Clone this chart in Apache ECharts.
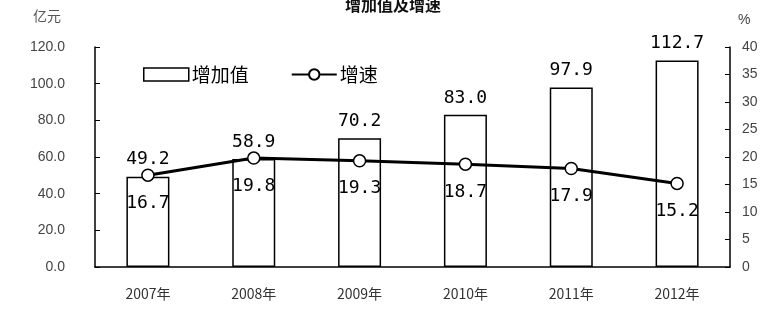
<!DOCTYPE html>
<html>
<head>
<meta charset="utf-8">
<script src="https://cdn.jsdelivr.net/npm/echarts@6/dist/echarts.min.js"></script>
<style>
  html, body { margin: 0; padding: 0; background: #ffffff; }
  #chart { width: 768px; height: 309px; }
</style>
</head>
<body>
<div id="chart"></div>
<script>
// 数据
var years = ['2007年', '2008年', '2009年', '2010年', '2011年', '2012年'];
var addedValue = [49.2, 58.9, 70.2, 83.0, 97.9, 112.7];
var growthRate = [16.7, 19.8, 19.3, 18.7, 17.9, 15.2];

var chart = echarts.init(document.getElementById('chart'));
chart.setOption({
    backgroundColor: '#ffffff',
    animation: false,
    title: {
        text: '增加值及增速',
        left: 340,
        top: -8,
        textStyle: { fontSize: 16, fontWeight: 'bold', color: '#111', fontFamily: 'Noto Sans CJK SC' }
    },
    // 图例
    legend: {
        left: 138,
        top: 60,
        itemGap: 42,
        itemWidth: 45,
        itemHeight: 13,
        textStyle: { fontSize: 19, color: '#000', fontFamily: 'Noto Sans CJK SC', padding: [0, 0, 0, -2] },
        data: [
            { name: '增加值', icon: 'rect', itemStyle: { color: '#fff', borderColor: '#000', borderWidth: 1.5 } },
            { name: '增速' }
        ]
    },
    grid: {
        left: 95,
        right: 38,
        top: 47,
        bottom: 42
    },
    xAxis: {
        type: 'category',
        data: years,
        axisLine: { lineStyle: { color: '#000', width: 1.5 } },
        axisTick: { inside: true, length: 5, lineStyle: { color: '#000' } },
        axisLabel: { fontSize: 14, color: '#333', margin: 20, fontFamily: 'Noto Sans CJK SC' }
    },
    yAxis: [
        {
            type: 'value',
            name: '亿元',
            nameLocation: 'end',
            nameGap: 24,
            nameTextStyle: { color: '#555', fontSize: 14, fontFamily: 'Noto Sans CJK SC', align: 'right', padding: [0, 34, 0, 0] },
            min: 0,
            max: 120,
            interval: 20,
            axisLine: { show: true, lineStyle: { color: '#000', width: 1.5 } },
            axisTick: { show: true, inside: true, length: 5, lineStyle: { color: '#000' } },
            splitLine: { show: false },
            axisLabel: {
                margin: 30,
                fontSize: 14,
                color: '#444',
                formatter: function (v) { return v.toFixed(1); }
            }
        },
        {
            type: 'value',
            name: '%',
            nameLocation: 'end',
            nameGap: 20,
            nameTextStyle: { color: '#444', fontSize: 14, align: 'left', padding: [0, 0, 0, 8] },
            min: 0,
            max: 40,
            interval: 5,
            axisLine: { show: true, lineStyle: { color: '#000', width: 1.5 } },
            axisTick: { show: true, inside: true, length: 5, lineStyle: { color: '#000' } },
            splitLine: { show: false },
            axisLabel: { margin: 12, fontSize: 14, color: '#444' }
        }
    ],
    series: [
        {
            name: '增加值',
            type: 'bar',
            data: addedValue,
            barWidth: 43,
            itemStyle: { color: '#fff', borderColor: '#000', borderWidth: 1.5 },
            label: {
                show: true,
                position: 'top',
                distance: 8,
                fontSize: 18,
                color: '#000',
                fontFamily: 'DejaVu Sans Mono',
                formatter: function (p) { return p.value.toFixed(1); }
            }
        },
        {
            name: '增速',
            type: 'line',
            yAxisIndex: 1,
            data: growthRate,
            symbol: 'circle',
            symbolSize: 12,
            lineStyle: { color: '#000', width: 3 },
            itemStyle: { color: '#fff', borderColor: '#000', borderWidth: 1.5 },
            label: {
                show: true,
                position: 'bottom',
                distance: 12,
                fontSize: 18,
                color: '#000',
                fontFamily: 'DejaVu Sans Mono',
                formatter: function (p) { return p.value.toFixed(1); }
            },
            z: 5
        }
    ]
});
</script>
</body>
</html>
